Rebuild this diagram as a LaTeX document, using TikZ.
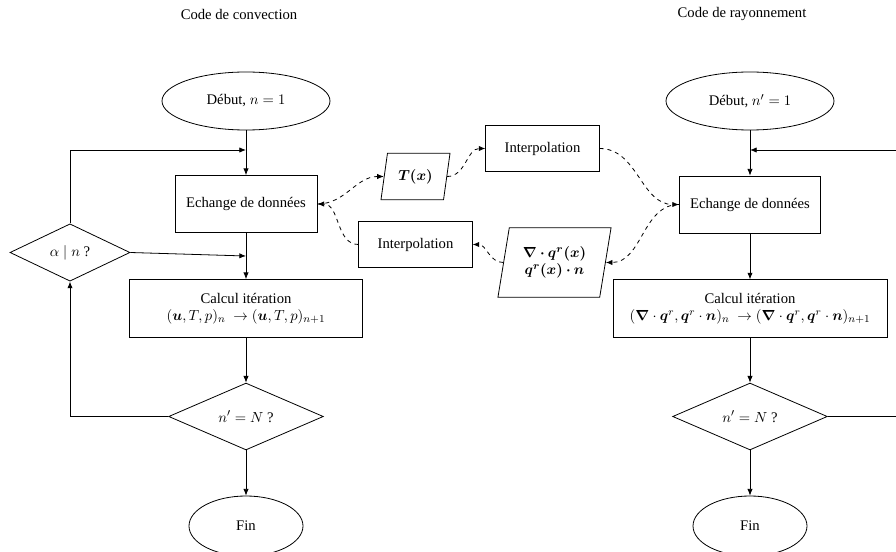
\documentclass[tikz,border=0pt]{standalone}
\usepackage{amsmath,bm}
\usepackage{fontspec}
\setmainfont{Liberation Serif}
\usetikzlibrary{positioning,shapes.geometric,arrows.meta}

\tikzset{
  txt/.style={font=\fontsize{11}{13}\selectfont,align=center},
  base/.style={txt,draw=black,line width=0.6pt,inner sep=2pt},
  box/.style={base,rectangle},
  oval/.style={base,ellipse},
  test/.style={base,diamond,inner sep=0pt},
  io/.style={base,trapezium,trapezium left angle=77,trapezium right angle=103,trapezium stretches=true},
  flow/.style={line width=0.6pt,-{Latex[length=5pt,width=4pt]}},
  data/.style={flow,dashed}
}

\begin{document}
\begin{tikzpicture}[x=0.75pt,y=-0.75pt]
  \useasboundingbox (0,0) rectangle (896,552);
  % code de convection
  \node[txt] (titleC) at (239,14) {Code de convection};
  \node[oval,minimum width=126pt,minimum height=43.5pt] (debutC) at (246,101) {Début, $n = 1$};
  \node[box,minimum width=106.5pt,minimum height=42.75pt] (echC) at (246,204) {Echange de données};
  \node[test,minimum width=90pt,minimum height=43pt] (alphaC) at (70,252.5) {$\alpha \mid n$ ?};
  \node[box,minimum width=175pt,minimum height=43.5pt] (calcC) at (246,308.5) {Calcul itération\\ $(\bm{u},T,p)_n\ \rightarrow(\bm{u},T,p)_{n+1}$};
  \node[test,minimum width=116pt,minimum height=50pt] (testC) at (246,416.5) {$n' = N$ ?};
  \node[oval,minimum width=85.5pt,minimum height=45pt] (finC) at (246,526) {Fin};
  \coordinate (joinC) at (246,150);
  \coordinate (skipC) at (246,256);
  % code de rayonnement
  \node[txt] (titleR) at (742,14) {Code de rayonnement};
  \node[oval,minimum width=126pt,minimum height=43.5pt] (debutR) at (750,101) {Début, $n' = 1$};
  \node[box,minimum width=106pt,minimum height=42.75pt] (echR) at (750,204.5) {Echange de données};
  \node[box,minimum width=205.5pt,minimum height=43pt] (calcR) at (750,308.5) {Calcul itération\\ $(\bm{\nabla}\cdot\bm{q}^r,\bm{q}^r\cdot\bm{n})_n\ \rightarrow(\bm{\nabla}\cdot\bm{q}^r,\bm{q}^r\cdot\bm{n})_{n+1}$};
  \node[test,minimum width=116pt,minimum height=50pt] (testR) at (750,416.5) {$n' = N$ ?};
  \node[oval,minimum width=85.5pt,minimum height=45pt] (finR) at (750,526) {Fin};
  \coordinate (joinR) at (750,150);
  \coordinate (backR) at (930,416.5);
  % couplage
  \node[io,minimum width=52pt,minimum height=35pt] (Tx) at (415.5,176.5) {$\bm{T(x)}$};
  \node[box,minimum width=85pt,minimum height=34pt] (interpA) at (542.5,148.5) {Interpolation};
  \node[box,minimum width=85pt,minimum height=34pt] (interpB) at (415.5,244.5) {Interpolation};
  \node[io,minimum width=85pt,minimum height=52pt] (qr) at (554.5,262.5) {$\bm{\nabla\cdot q^r(x)}$\\ $\bm{q^r(x)\cdot n}$};

  \draw[flow] (debutC) -- (echC);
  \draw[flow] (echC) -- (calcC);
  \draw[flow] (calcC) -- (testC);
  \draw[flow] (testC) -- (finC);
  \draw[flow] (testC.west) -| (alphaC.south);
  \draw[flow] (alphaC.north) |- (joinC);
  \draw[flow] (alphaC.east) -- (skipC);

  \draw[flow] (debutR) -- (echR);
  \draw[flow] (echR) -- (calcR);
  \draw[flow] (calcR) -- (testR);
  \draw[flow] (testR) -- (finR);
  \draw[flow] (testR.east) -- (backR) |- (joinR);

  \draw[data] (echC.east) to[out=0,in=180] (Tx.west);
  \draw[data] (Tx.east) to[out=0,in=180] (interpA.west);
  \draw[data] (interpA.east) to[out=0,in=180] (echR.west);
  \draw[data] (echR.west) to[out=180,in=0] (qr.east);
  \draw[data] (qr.west) to[out=180,in=0] (interpB.east);
  \draw[data] (interpB.west) to[out=180,in=0] (echC.east);
\end{tikzpicture}
\end{document}
